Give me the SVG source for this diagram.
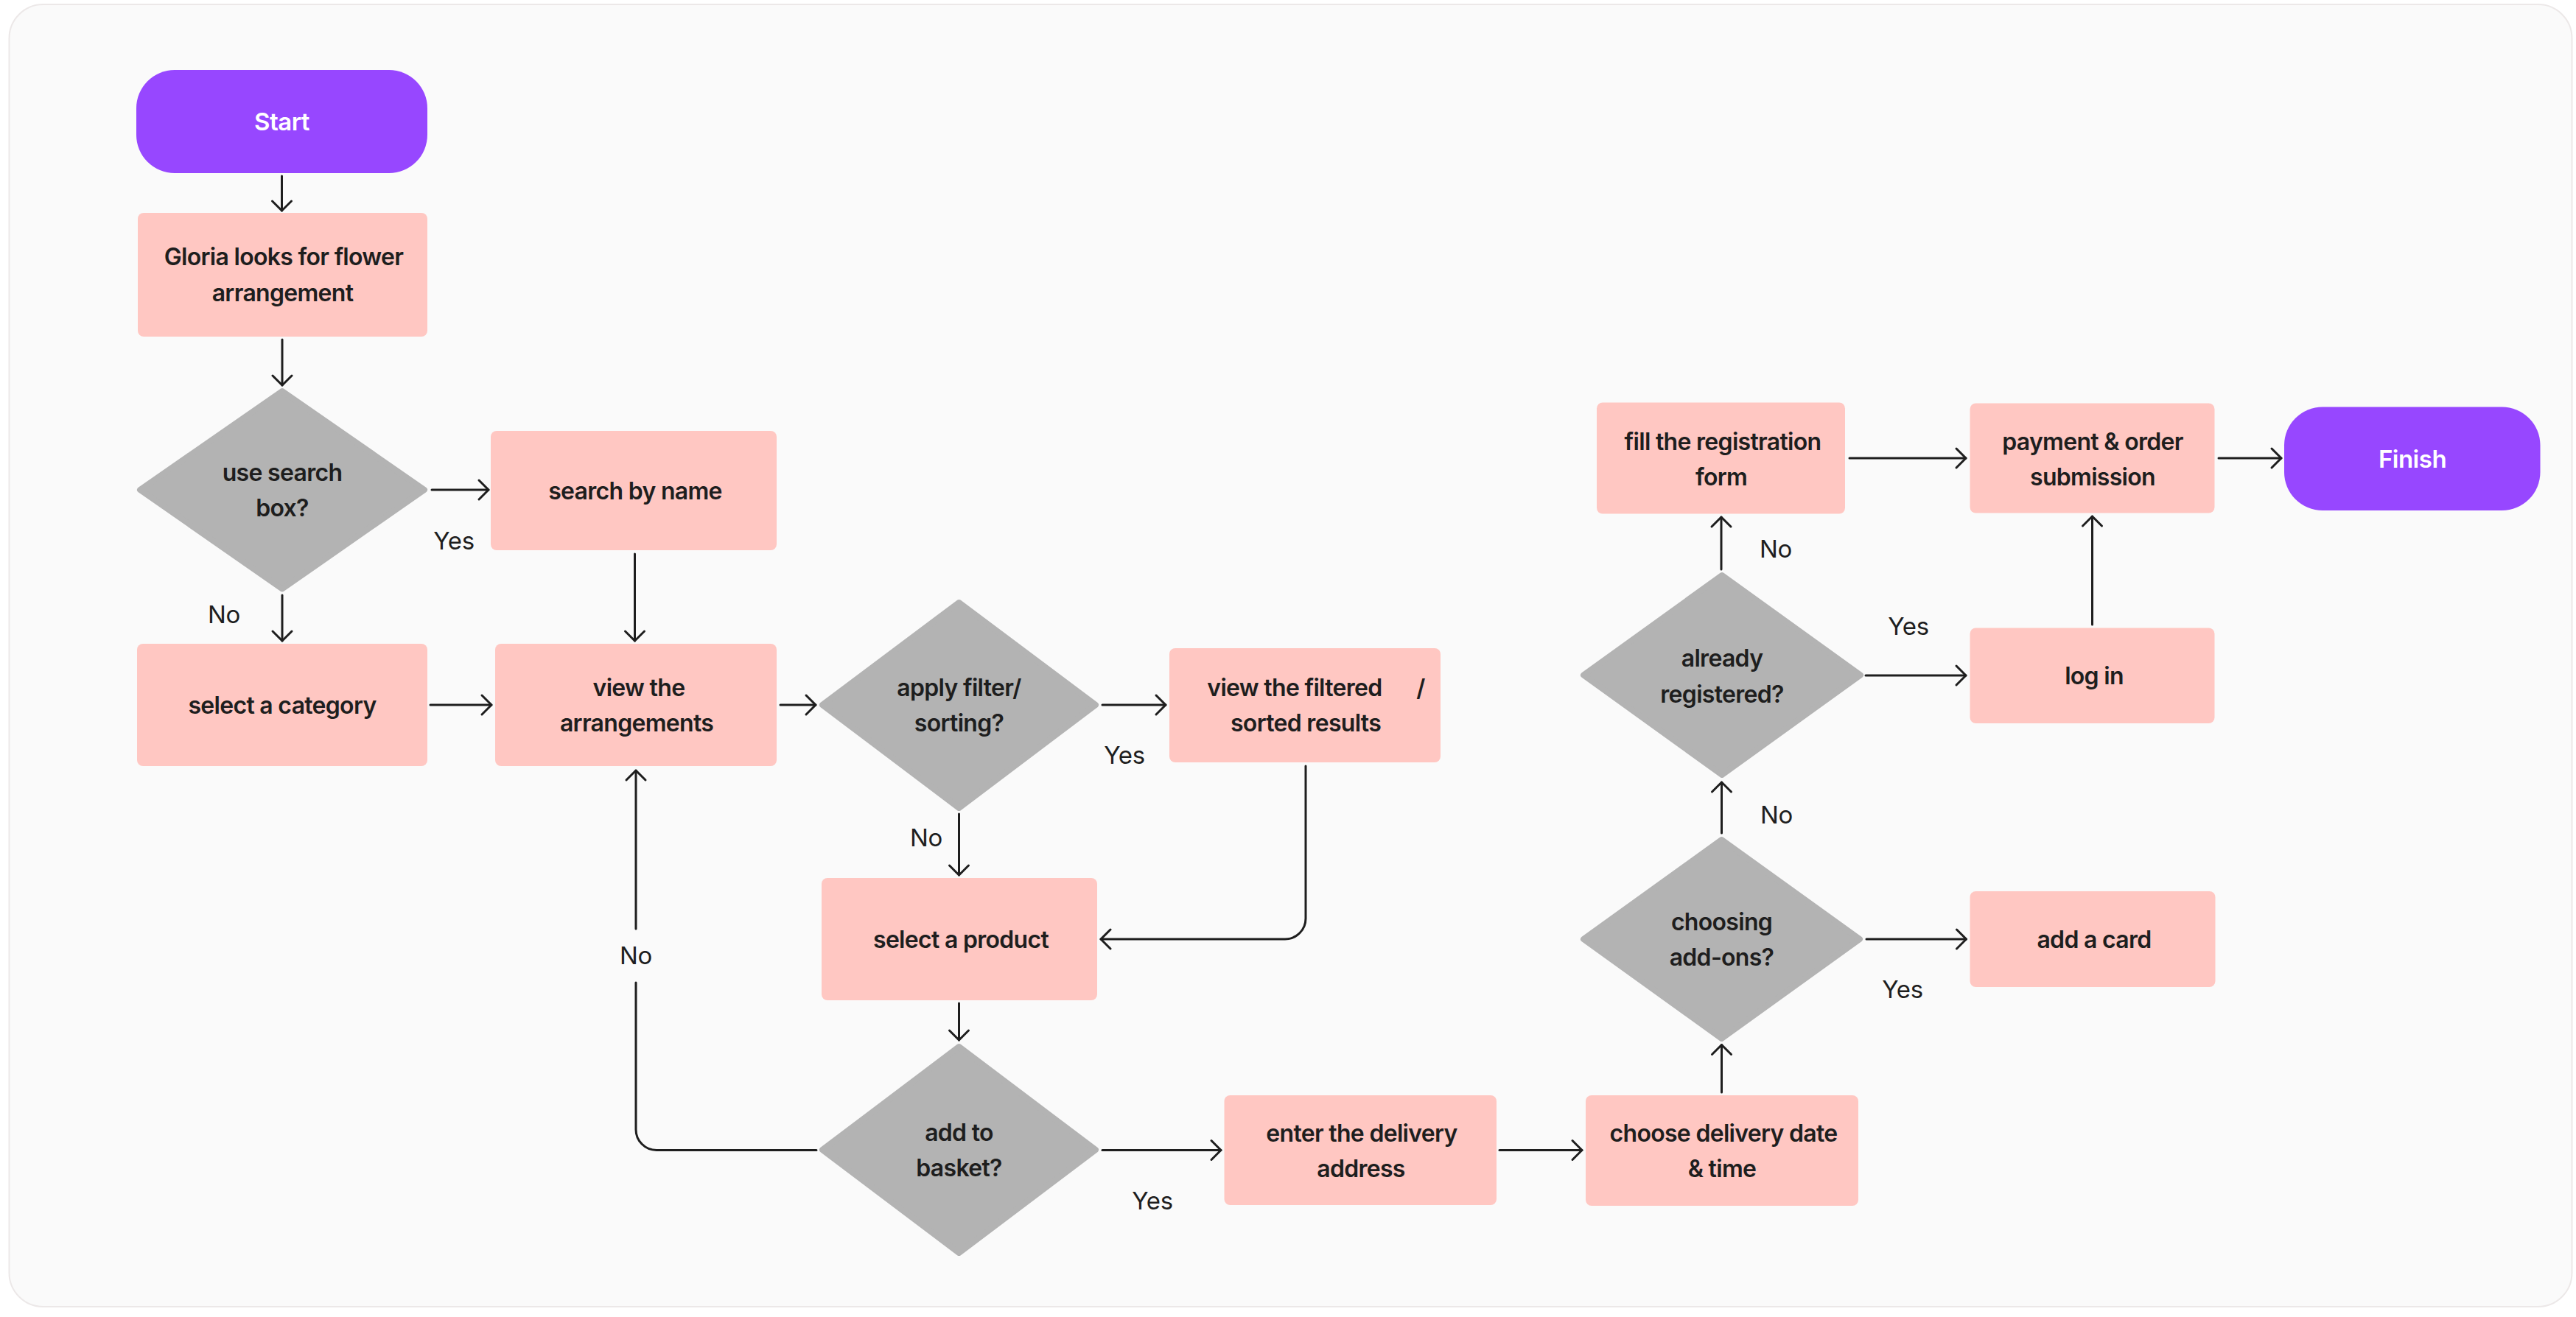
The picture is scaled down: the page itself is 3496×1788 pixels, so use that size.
<svg xmlns="http://www.w3.org/2000/svg" width="3496" height="1788" viewBox="0 0 3496 1788">
  <defs>
    <marker id="arrow" markerUnits="userSpaceOnUse" markerWidth="40" markerHeight="40" viewBox="-20 -20 40 40" refX="0" refY="0" orient="auto">
      <path d="M-13,-13 L0,0 L-13,13" fill="none" stroke="#1E1E1E" stroke-width="3" stroke-linecap="round" stroke-linejoin="round"/>
    </marker>
    <style>
      .bg { fill: #FAFAFA; stroke: #ECE8E8; stroke-width: 2; }
      .term { fill: #9747FF; }
      .proc { fill: #FFC7C2; }
      .dec { fill: #B3B3B3; stroke: #B3B3B3; stroke-width: 8; stroke-linejoin: round; }
      .t { font-family: Inter, "Noto Sans", "Liberation Sans", sans-serif; font-weight: 600; font-size: 32px; letter-spacing: -0.7px; fill: #1E1E1E; text-anchor: middle; }
      .tw { font-family: Inter, "Noto Sans", "Liberation Sans", sans-serif; font-weight: 600; font-size: 33px; letter-spacing: -0.5px; fill: #FFFFFF; text-anchor: middle; }
      .lbl { font-family: Inter, "Noto Sans", "Liberation Sans", sans-serif; font-weight: 400; font-size: 33px; letter-spacing: -0.3px; fill: #1E1E1E; text-anchor: middle; }
      .c { fill: none; stroke: #1E1E1E; stroke-width: 3; stroke-linecap: round; stroke-linejoin: round; marker-end: url(#arrow); }
    </style>
  </defs>

  <rect class="bg" x="12.5" y="6" width="3478" height="1768" rx="46"/>

  <g id="connectors">
    <path class="c" d="M382.5 239 V286"/>
    <path class="c" d="M383 461 V523"/>
    <path class="c" d="M586 665 H663"/>
    <path class="c" d="M383 808 V870"/>
    <path class="c" d="M861.5 752 V870"/>
    <path class="c" d="M584 957 H667"/>
    <path class="c" d="M1059 957 H1107"/>
    <path class="c" d="M1496 957 H1582"/>
    <path class="c" d="M1301.5 1105 V1188"/>
    <path class="c" d="M1772 1040 V1247 A28 28 0 0 1 1744 1275 H1494"/>
    <path class="c" d="M1301.5 1362 V1412"/>
    <path class="c" d="M1108 1561.5 H891 A28 28 0 0 1 863 1533.5 V1334 M863 1261 V1046"/>
    <path class="c" d="M1496 1561.5 H1657"/>
    <path class="c" d="M2035 1561.5 H2147"/>
    <path class="c" d="M2336.5 1483 V1418.5"/>
    <path class="c" d="M2533 1275 H2668.5"/>
    <path class="c" d="M2336.5 1131 V1062"/>
    <path class="c" d="M2336 773 V702"/>
    <path class="c" d="M2532 917 H2668"/>
    <path class="c" d="M2839.5 848 V701"/>
    <path class="c" d="M2510 622 H2668"/>
    <path class="c" d="M3011 622 H3096"/>
    <g id="connector-labels">
      <text class="lbl" x="616" y="746">Yes</text>
      <text class="lbl" x="304" y="846">No</text>
      <text class="lbl" x="1526" y="1037">Yes</text>
      <text class="lbl" x="1257" y="1149">No</text>
      <text class="lbl" x="1564" y="1642">Yes</text>
      <text class="lbl" x="863" y="1309">No</text>
      <text class="lbl" x="2582" y="1355">Yes</text>
      <text class="lbl" x="2411" y="1118">No</text>
      <text class="lbl" x="2410" y="757">No</text>
      <text class="lbl" x="2590" y="862">Yes</text>
    </g>
  </g>

  <g id="start">
    <rect class="term" x="185" y="95" width="395" height="140" rx="52"/>
    <text class="tw" x="382.5" y="177">Start</text>
  </g>
  <g id="gloria-looks">
    <rect class="proc" x="187" y="289" width="393" height="168" rx="8"/>
    <text class="t" x="385" y="360">Gloria looks for flower</text>
    <text class="t" x="383.5" y="409">arrangement</text>
  </g>
  <g id="use-search-box">
    <polygon class="dec" points="383,531 576,665 383,799.5 190,665"/>
    <text class="t" x="383" y="653">use search</text>
    <text class="t" x="383" y="701">box?</text>
  </g>
  <g id="search-by-name">
    <rect class="proc" x="666" y="585" width="388" height="162" rx="8"/>
    <text class="t" x="862" y="678">search by name</text>
  </g>
  <g id="select-category">
    <rect class="proc" x="186" y="874" width="394" height="166" rx="8"/>
    <text class="t" x="383" y="969">select a category</text>
  </g>
  <g id="view-arrangements">
    <rect class="proc" x="672" y="874" width="382" height="166" rx="8"/>
    <text class="t" x="867" y="945">view the</text>
    <text class="t" x="864" y="993">arrangements</text>
  </g>
  <g id="apply-filter">
    <polygon class="dec" points="1301.5,818 1487,957 1301.5,1097 1116,957"/>
    <text class="t" x="1301.5" y="945">apply filter/</text>
    <text class="t" x="1301.5" y="993">sorting?</text>
  </g>
  <g id="view-filtered">
    <rect class="proc" x="1587" y="880" width="368" height="155" rx="8"/>
    <text class="t" x="1786" y="945" xml:space="preserve">view the filtered <tspan dx="32"> /</tspan></text>
    <text class="t" x="1772" y="993">sorted results</text>
  </g>
  <g id="select-product">
    <rect class="proc" x="1115" y="1192" width="374" height="166" rx="8"/>
    <text class="t" x="1304" y="1287">select a product</text>
  </g>
  <g id="add-to-basket">
    <polygon class="dec" points="1301.5,1421 1487,1561 1301.5,1701 1116,1561"/>
    <text class="t" x="1301.5" y="1549">add to</text>
    <text class="t" x="1301.5" y="1597">basket?</text>
  </g>
  <g id="enter-address">
    <rect class="proc" x="1661.5" y="1487" width="369.5" height="149" rx="8"/>
    <text class="t" x="1848" y="1550">enter the delivery</text>
    <text class="t" x="1847" y="1598">address</text>
  </g>
  <g id="choose-date">
    <rect class="proc" x="2152" y="1487" width="370" height="150" rx="8"/>
    <text class="t" x="2339" y="1550">choose delivery date</text>
    <text class="t" x="2337" y="1598">&amp; time</text>
  </g>
  <g id="choosing-addons">
    <polygon class="dec" points="2336.5,1140 2524,1275 2336.5,1410 2149,1275"/>
    <text class="t" x="2336.5" y="1263">choosing</text>
    <text class="t" x="2336.5" y="1311">add-ons?</text>
  </g>
  <g id="add-card">
    <rect class="proc" x="2673.5" y="1210" width="333" height="130" rx="8"/>
    <text class="t" x="2842" y="1287">add a card</text>
  </g>
  <g id="already-registered">
    <polygon class="dec" points="2337,781 2525,916.5 2337,1052 2149,916.5"/>
    <text class="t" x="2337" y="905">already</text>
    <text class="t" x="2337" y="954">registered?</text>
  </g>
  <g id="log-in">
    <rect class="proc" x="2673.5" y="852.5" width="332" height="129.5" rx="8"/>
    <text class="t" x="2842" y="929">log in</text>
  </g>
  <g id="fill-registration">
    <rect class="proc" x="2167" y="546.5" width="337" height="151" rx="8"/>
    <text class="t" x="2338" y="611">fill the registration</text>
    <text class="t" x="2336" y="659">form</text>
  </g>
  <g id="payment">
    <rect class="proc" x="2673.5" y="547.5" width="332" height="149" rx="8"/>
    <text class="t" x="2840" y="611">payment &amp; order</text>
    <text class="t" x="2840" y="659">submission</text>
  </g>
  <g id="finish">
    <rect class="term" x="3100" y="552.5" width="347.5" height="140.5" rx="52"/>
    <text class="tw" x="3274" y="635">Finish</text>
  </g>
</svg>
